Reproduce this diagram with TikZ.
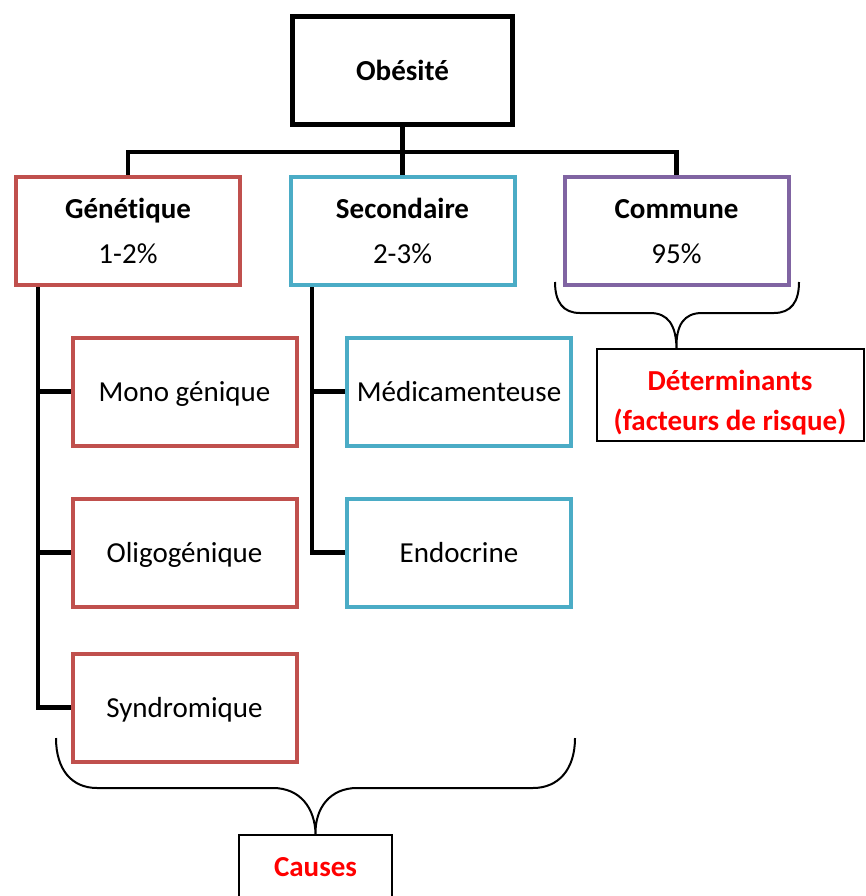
\documentclass[tikz,border=0pt]{standalone}
\usepackage{fontspec}
\setmainfont{Carlito}[Ligatures=NoCommon]
\usepackage{tikz}
\usetikzlibrary{positioning}
\definecolor{gcol}{HTML}{C0504D}
\definecolor{scol}{HTML}{4BACC6}
\definecolor{ccol}{HTML}{8064A2}
\tikzset{
cadre/.style={draw, rectangle, line width=4pt, minimum width=224pt, minimum height=108pt, inner sep=2pt, text depth=0pt, align=center, font=\fontsize{29}{35}\selectfont},
lien/.style={line width=4.5pt},
accol/.style={line width=2pt},
note/.style={draw, rectangle, line width=2pt, inner sep=2pt, align=center, text=red, font=\fontsize{29}{35}\selectfont\bfseries}
}
\begin{document}
\begin{tikzpicture}[x=1pt,y=-1pt]
\useasboundingbox (0,0) rectangle (865,896);

\node[cadre, line width=5pt, minimum width=220pt] (obe) at (402.5,70.5){\textbf{Obésité}};

\node[cadre, draw=gcol] (gen) at (128,231){\textbf{Génétique}\\[10pt]1-2\%};
\node[cadre, draw=scol] (sec) at (402.5,231){\textbf{Secondaire}\\[10pt]2-3\%};
\node[cadre, draw=ccol] (com) at (676.5,231){\textbf{Commune}\\[10pt]95\%};

\node[cadre, draw=gcol] (mono) at (184.5,391.5){Mono génique};
\node[cadre, draw=gcol] (oligo) at (184.5,552.5){Oligogénique};
\node[cadre, draw=gcol] (synd) at (184.5,707.5){Syndromique};
\node[cadre, draw=scol] (medi) at (459,391.5){Médicamenteuse};
\node[cadre, draw=scol] (endo) at (459,552.5){Endocrine};

\node[note, text depth=0pt, minimum width=267pt, minimum height=92pt] (det) at (730,395){\rule{0pt}{31pt}Déterminants\\[5pt](facteurs de risque)};
\node[note, minimum width=153pt, minimum height=64pt] (cau) at (315.5,867){Causes};

\draw[lien] (obe.south) -- (sec.north);
\draw[lien] (gen.north) -- ++(0,-23) -| (com.north);

\coordinate (gt) at ([xshift=24pt]gen.south west);
\draw[lien] (gt) |- (synd.west);
\draw[lien] (mono.west) -- (mono.west -| gt);
\draw[lien] (oligo.west) -- (oligo.west -| gt);

\coordinate (st) at ([xshift=23.5pt]sec.south west);
\draw[lien] (st) |- (endo.west);
\draw[lien] (medi.west) -- (medi.west -| st);

\coordinate (dtip) at (com.south |- det.north);
\draw[accol] (555,282) .. controls (555,302) and (563,313) .. (580,313) -- (650,313)
  .. controls (668,313) and (676,325) .. (dtip)
  .. controls (676,325) and (684,313) .. (702,313) -- (774,313)
  .. controls (791,313) and (799,302) .. (799,282);

\draw[accol] (56,738) .. controls (56,770) and (72,788) .. (97,788) -- (273,788)
  .. controls (300,788) and (315,808) .. (cau.north)
  .. controls (315,808) and (330,788) .. (357,788) -- (533,788)
  .. controls (558,788) and (575,770) .. (575,738);
\end{tikzpicture}
\end{document}
